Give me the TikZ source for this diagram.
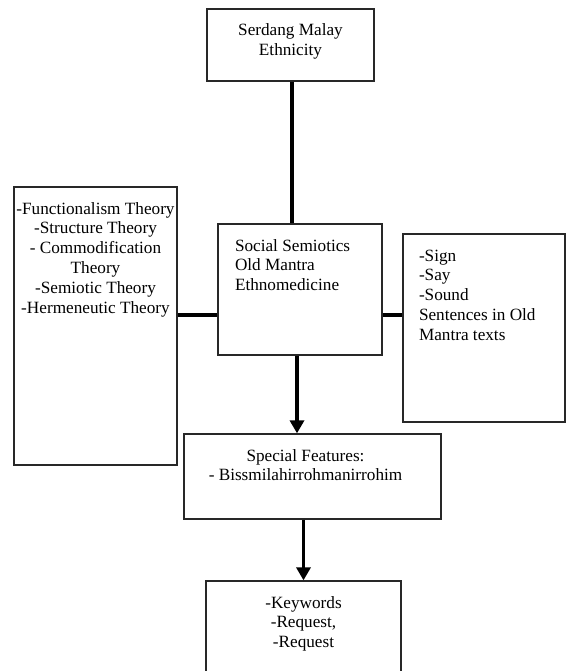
\documentclass[tikz,border=0pt]{standalone}
\usepackage{fontspec}
\setmainfont{Liberation Serif}
\usepackage{xcolor}
\definecolor{frame}{RGB}{40,40,40}
\usepackage{tikz}
\usetikzlibrary{arrows.meta,positioning}
\tikzset{
  %% framed blocks, text hung from the top edge
  block/.style={draw=frame, line width=1.3pt, inner sep=0pt,
                font=\fontsize{17.2}{19.8}\selectfont},
  %% thick connectors
  link/.style={draw=black, line width=3.8pt},
  flow/.style={link, -{Triangle[length=13pt,width=14pt]}},
}
%% width, height, alignment, lines
\newcommand{\blocktext}[4]{%
  \parbox[t][#2][t]{#1}{#3\rule{0pt}{27pt}#4}}

\begin{document}
\begin{tikzpicture}[x=1pt,y=-1pt]
\useasboundingbox (0,0) rectangle (566,671);

\node[block] (ethnic) at (290.5,45)
  {\blocktext{167pt}{72pt}{\centering}{Serdang Malay\\Ethnicity}};
\node[block] (semio) at (300,289.5)
  {\blocktext{164pt}{131pt}{\raggedright\leftskip=17pt\relax}%
    {Social Semiotics\\Old Mantra\\Ethnomedicine}};
\node[block] (theory) at (95.5,326)
  {\blocktext{163pt}{278pt}{\centering}%
    {-Functionalism Theory\\-Structure Theory\\- Commodification\\Theory\\%
     -Semiotic Theory\\-Hermeneutic Theory}};
\node[block] (sign) at (484,328)
  {\blocktext{162pt}{188pt}{\raggedright\leftskip=16pt\relax}%
    {-Sign\\-Say\\-Sound\\Sentences in Old\\Mantra texts}};
\node[block] (feature) at (312.5,476.5)
  {\blocktext{257pt}{85pt}{\centering\rightskip=14pt plus 1fil\relax}%
    {Special Features:\\- Bissmilahirrohmanirrohim}};
\node[block] (keyword) at (303.5,640.5)
  {\blocktext{195pt}{119pt}{\centering}{-Keywords\\-Request,\\-Request}};

% side links meet the middle block at one height
\coordinate (mid) at (0,315);
\draw[link] ([xshift=1.5pt]ethnic.south) -- ([xshift=1.5pt]ethnic.south |- semio.north);
\draw[link] (theory.east |- mid) -- (semio.west |- mid);
\draw[link] (semio.east |- mid) -- (sign.west |- mid);
\draw[flow] ([xshift=-3pt]semio.south) -- ([xshift=-3pt]semio.south |- feature.north);
\draw[flow] (keyword.north |- feature.south) -- (keyword.north);
\end{tikzpicture}
\end{document}
